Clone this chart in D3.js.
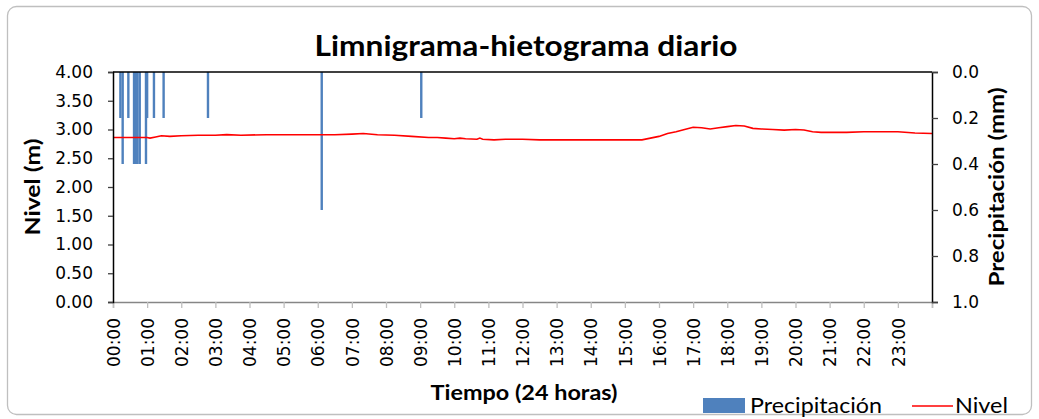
<!DOCTYPE html>
<html>
<head>
<meta charset="utf-8">
<script src="https://cdnjs.cloudflare.com/ajax/libs/d3/7.8.5/d3.min.js"></script>
<style>
    body { margin: 0; background: #fff; }
    .tick-label { font-family: "DejaVu Sans", sans-serif; font-size: 17px; fill: #000; }
    .axis-title { font-family: Lato, "Open Sans", sans-serif; font-weight: bold; fill: #000; }
    .legend-text { font-family: Lato, "Open Sans", sans-serif; font-size: 21px; fill: #000; }
</style>
</head>
<body>
<div id="chart-area"></div>
<script>
/* * * * * * * * * * * * * *
*   data  *
* * * * * * * * * * * * * */

// hourly category labels along the bottom
const hourLabels = ["00:00","01:00","02:00","03:00","04:00","05:00","06:00","07:00",
    "08:00","09:00","10:00","11:00","12:00","13:00","14:00","15:00",
    "16:00","17:00","18:00","19:00","20:00","21:00","22:00","23:00"];

const nivelTicks = [0, 0.5, 1, 1.5, 2, 2.5, 3, 3.5, 4];
const precipTicks = [0, 0.2, 0.4, 0.6, 0.8, 1.0];

// precipitation (mm), tipping events
const precipTimes = ["00:13","00:17","00:27","00:37","00:40","00:43","00:47",
    "00:58","01:00","01:12","01:29","02:47","06:07","09:02"];
const precipValues = [0.2, 0.4, 0.2, 0.4, 0.4, 0.4, 0.4,
    0.4, 0.2, 0.2, 0.2, 0.2, 0.6, 0.2];

// water level (m)
const nivelTimes = ["00:00","00:30","01:00","01:05","01:15","01:25","01:40","02:00","02:30",
    "03:00","03:20","03:45","04:30","05:00","05:30","06:00","06:30","07:00","07:20","07:45",
    "08:15","08:45","09:15","09:30","09:45","10:00","10:10","10:20","10:40","10:45","10:50",
    "11:10","11:30","12:00","12:30","13:00","14:00","15:00","15:30","16:00","16:15","16:30",
    "16:45","17:00","17:15","17:30","17:45","18:00","18:15","18:30","18:45","19:00","19:20",
    "19:40","20:00","20:15","20:30","20:45","21:00","21:30","22:00","22:30","23:00","23:30","24:00"];
const nivelValues = [2.86, 2.86, 2.86, 2.85, 2.87, 2.89, 2.88, 2.89, 2.90,
    2.90, 2.91, 2.90, 2.91, 2.91, 2.91, 2.91, 2.91, 2.92, 2.93, 2.91,
    2.90, 2.88, 2.86, 2.86, 2.85, 2.84, 2.85, 2.84, 2.83, 2.85, 2.83,
    2.82, 2.83, 2.83, 2.82, 2.82, 2.82, 2.82, 2.82, 2.88, 2.93, 2.96,
    3.00, 3.04, 3.03, 3.01, 3.03, 3.05, 3.07, 3.06, 3.02, 3.01, 3.00,
    2.99, 3.00, 2.99, 2.96, 2.95, 2.95, 2.95, 2.96, 2.96, 2.96, 2.94, 2.93];


class limniVis {
    constructor(parentElement){
        this.parentElement = parentElement;
        this.initVis();
    }

    initVis(){
        let vis = this;

        vis.width = 1039;
        vis.height = 419;
        vis.plot = {left: 113, right: 932, top: 72, bottom: 302};

        vis.svg = d3.select("#" + vis.parentElement).append("svg")
            .attr("width", vis.width)
            .attr("height", vis.height);

        // chart frame
        vis.svg.append("rect")
            .attr("x", 7.5).attr("y", 6.5)
            .attr("width", 1024).attr("height", 408)
            .attr("rx", 9)
            .attr("fill", "#fff")
            .attr("stroke", "#bfbfbf")
            .attr("stroke-width", 1.3);

        let toMin = (t) => +t.slice(0, 2) * 60 + +t.slice(3, 5);

        vis.x = d3.scaleLinear().domain([0, 1440]).range([vis.plot.left, vis.plot.right]);
        vis.yNivel = d3.scaleLinear().domain([0, 4]).range([vis.plot.bottom, vis.plot.top]);
        vis.yPrecip = d3.scaleLinear().domain([0, 1]).range([vis.plot.top, vis.plot.bottom]);

        // bars hang from the top (reversed secondary axis)
        let precipData = precipTimes.map((t, i) => ({t: toMin(t), v: precipValues[i]}));
        vis.svg.append("g")
            .selectAll("rect")
            .data(precipData)
            .enter()
            .append("rect")
            .attr("x", d => vis.x(d.t) - 1.2)
            .attr("y", vis.yPrecip(0))
            .attr("width", 2.4)
            .attr("height", d => vis.yPrecip(d.v) - vis.yPrecip(0))
            .attr("fill", "#4f81bd");

        // level line
        let nivelData = nivelTimes.map((t, i) => ({t: toMin(t), v: nivelValues[i]}));
        vis.svg.append("path")
            .datum(nivelData)
            .attr("fill", "none")
            .attr("stroke", "#ff0000")
            .attr("stroke-width", 1.6)
            .attr("d", d3.line().x(d => vis.x(d.t)).y(d => vis.yNivel(d.v)));

        // bottom axis (hours)
        let hourTicks = hourLabels.map(toMin).concat([1440]);
        let xAxis = d3.axisBottom(vis.x)
            .tickValues(hourTicks)
            .tickSize(6)
            .tickFormat((d, i) => hourLabels[i] || "");
        let gx = vis.svg.append("g")
            .attr("transform", `translate(0, ${vis.plot.bottom})`)
            .call(xAxis);
        gx.select(".domain").attr("stroke", "#868686").attr("stroke-width", 1.3);
        gx.selectAll(".tick line").attr("stroke", "#bfbfbf").attr("stroke-width", 1.3);
        gx.selectAll(".tick text")
            .attr("class", "tick-label")
            .attr("font-family", null).attr("font-size", null)
            .attr("transform", "rotate(-90)")
            .attr("x", -16)
            .attr("y", 0)
            .attr("dy", "0.36em")
            .attr("text-anchor", "end");

        // top line of the secondary category axis
        vis.svg.append("line")
            .attr("x1", vis.plot.left).attr("x2", vis.plot.right)
            .attr("y1", vis.plot.top).attr("y2", vis.plot.top)
            .attr("stroke", "#000").attr("stroke-width", 1.3);

        // left axis
        let gy = vis.svg.append("g")
            .attr("transform", `translate(${vis.plot.left}, 0)`)
            .call(d3.axisLeft(vis.yNivel).tickValues(nivelTicks).tickSize(5).tickPadding(15).tickFormat(d3.format(".2f")));
        gy.select(".domain").attr("stroke", "#000").attr("stroke-width", 1.5);
        gy.selectAll(".tick line").attr("stroke", "#404040").attr("stroke-width", 1.3);
        gy.selectAll(".tick text").attr("class", "tick-label").attr("font-family", null).attr("font-size", null);

        // right axis
        let gy2 = vis.svg.append("g")
            .attr("transform", `translate(${vis.plot.right}, 0)`)
            .call(d3.axisRight(vis.yPrecip).tickValues(precipTicks).tickSize(6).tickPadding(14).tickFormat(d3.format(".1f")));
        gy2.select(".domain").attr("stroke", "#000").attr("stroke-width", 1.5);
        gy2.selectAll(".tick line").attr("stroke", "#404040").attr("stroke-width", 1.3);
        gy2.selectAll(".tick text").attr("class", "tick-label").attr("font-family", null).attr("font-size", null);

        // titles
        vis.svg.append("text")
            .attr("class", "axis-title")
            .attr("x", 526).attr("y", 56)
            .attr("text-anchor", "middle")
            .attr("font-size", 28)
            .attr("textLength", 423).attr("lengthAdjust", "spacingAndGlyphs")
            .text("Limnigrama-hietograma diario");

        vis.svg.append("text")
            .attr("class", "axis-title")
            .attr("transform", "translate(40, 187) rotate(-90)")
            .attr("text-anchor", "middle")
            .attr("font-size", 21)
            .attr("textLength", 97).attr("lengthAdjust", "spacingAndGlyphs")
            .text("Nivel (m)");

        vis.svg.append("text")
            .attr("class", "axis-title")
            .attr("transform", "translate(1004, 187) rotate(-90)")
            .attr("text-anchor", "middle")
            .attr("font-size", 21)
            .attr("textLength", 199).attr("lengthAdjust", "spacingAndGlyphs")
            .text("Precipitación (mm)");

        vis.svg.append("text")
            .attr("class", "axis-title")
            .attr("x", 524).attr("y", 400)
            .attr("text-anchor", "middle")
            .attr("font-size", 21)
            .attr("textLength", 187).attr("lengthAdjust", "spacingAndGlyphs")
            .text("Tiempo (24 horas)");

        // legend
        let legend = vis.svg.append("g");
        legend.append("rect")
            .attr("x", 703).attr("y", 398)
            .attr("width", 42).attr("height", 15)
            .attr("fill", "#4f81bd");
        legend.append("text")
            .attr("class", "legend-text")
            .attr("x", 750).attr("y", 413)
            .attr("textLength", 132).attr("lengthAdjust", "spacingAndGlyphs")
            .text("Precipitación");
        legend.append("line")
            .attr("x1", 912).attr("x2", 953)
            .attr("y1", 406).attr("y2", 406)
            .attr("stroke", "#ff0000").attr("stroke-width", 1.6);
        legend.append("text")
            .attr("class", "legend-text")
            .attr("x", 955).attr("y", 413)
            .attr("textLength", 53).attr("lengthAdjust", "spacingAndGlyphs")
            .text("Nivel");
    }
}

new limniVis("chart-area");
</script>
</body>
</html>
